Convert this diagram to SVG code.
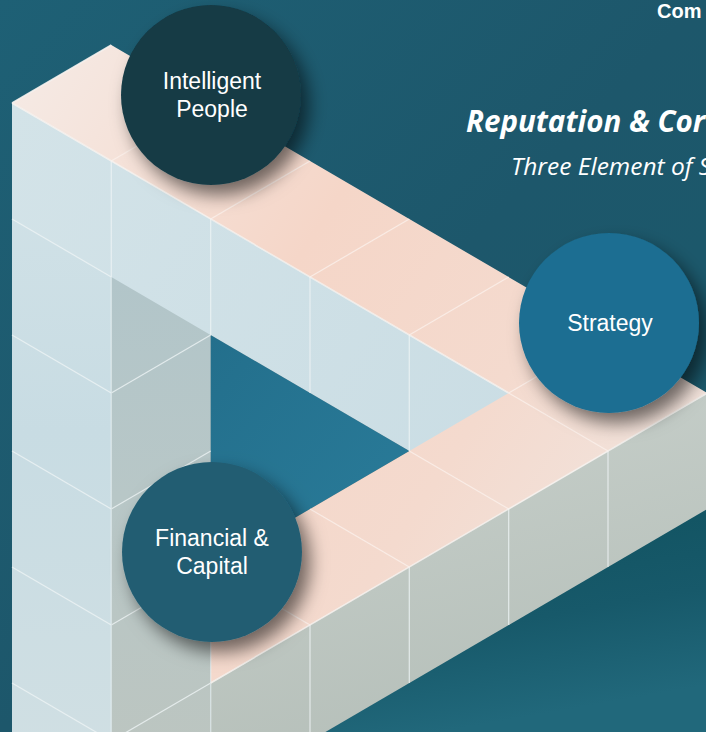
<svg xmlns="http://www.w3.org/2000/svg" width="706" height="732" viewBox="0 0 706 732">
  <defs>
    <linearGradient id="bg" x1="0" y1="0" x2="1" y2="1">
      <stop offset="0" stop-color="#1e6075"/>
      <stop offset="0.5" stop-color="#1d576b"/>
      <stop offset="1" stop-color="#1a5a6b"/>
    </linearGradient>
    <linearGradient id="inner" x1="0" y1="0" x2="1" y2="1">
      <stop offset="0" stop-color="#236f8c"/>
      <stop offset="1" stop-color="#2a7c9a"/>
    </linearGradient>
    <linearGradient id="lowbg" x1="0" y1="0" x2="0.3" y2="1">
      <stop offset="0" stop-color="#0f515e"/>
      <stop offset="0.6" stop-color="#17596a"/>
      <stop offset="1" stop-color="#21687b"/>
    </linearGradient>
    <linearGradient id="peach" x1="0" y1="0" x2="1" y2="0.6">
      <stop offset="0" stop-color="#f5ebe6"/>
      <stop offset="0.45" stop-color="#f5d6c8"/>
      <stop offset="0.75" stop-color="#f4dace"/>
      <stop offset="1" stop-color="#f1e3dc"/>
    </linearGradient>
    <linearGradient id="leftFace" x1="0" y1="0" x2="0" y2="1">
      <stop offset="0" stop-color="#d3e3e8"/>
      <stop offset="0.5" stop-color="#c8dce3"/>
      <stop offset="1" stop-color="#d0dfe3"/>
    </linearGradient>
    <linearGradient id="rightFace" x1="0" y1="0" x2="0" y2="1">
      <stop offset="0" stop-color="#adc4cb"/>
      <stop offset="0.6" stop-color="#b8c7c7"/>
      <stop offset="1" stop-color="#bcc5c0"/>
    </linearGradient>
    <linearGradient id="beamFront" x1="0" y1="0" x2="1" y2="0.5">
      <stop offset="0" stop-color="#d3e3e8"/>
      <stop offset="1" stop-color="#cadde4"/>
    </linearGradient>
    <linearGradient id="lowFront" x1="0" y1="0" x2="0.3" y2="1">
      <stop offset="0" stop-color="#c9d1cc"/>
      <stop offset="1" stop-color="#b4beb8"/>
    </linearGradient>
    <filter id="shadow" x="-30%" y="-30%" width="170%" height="170%">
      <feDropShadow dx="8" dy="10" stdDeviation="9" flood-color="#000000" flood-opacity="0.55"/>
    </filter>
  </defs>
  <style>
    .seam { stroke: #eef4f5; stroke-width: 1.2; fill: none; opacity: 0.8; }
    .tseam { stroke: #fbf1ec; stroke-width: 1.2; fill: none; opacity: 0.8; }
    .edge { stroke: #f7f3f0; stroke-width: 1.5; fill: none; opacity: 0.9; }
    .lbl { font-family: "Liberation Sans", Arial, sans-serif; font-size: 23px; fill: #ffffff; text-anchor: middle; }
  </style>

  <!-- background -->
  <rect x="0" y="0" width="706" height="732" fill="url(#bg)"/>
  <polygon points="325,732 707,509 706,732" fill="url(#lowbg)"/>

  <g id="scene">
    <!-- inner opening of the triangle -->
    <polygon points="210.7,335 409.3,451 210.7,567" fill="url(#inner)"/>
    <!-- column faces -->
    <polygon points="12,103 111.3,161 111.3,760 12,760" fill="url(#leftFace)"/>
    <polygon points="111.3,161 210.7,103 210.7,760 111.3,760" fill="url(#rightFace)"/>
    <!-- top beam front face -->
    <polygon points="12,103 608,451 608,567 12,219" fill="url(#beamFront)"/>
    <!-- bottom beam front face -->
    <polygon points="210.7,683 707.3,393 707.3,509 210.7,799" fill="url(#lowFront)"/>
    <!-- top faces (continuous peach band) -->
    <polygon points="12,103 111.3,45 707.3,393 608,451 210.7,683 210.7,567 508.7,393" fill="url(#peach)"/>

    <!-- column and front-face seams -->
    <g class="seam">
      <line x1="12" y1="219" x2="111.3" y2="277"/>
      <line x1="12" y1="335" x2="111.3" y2="393"/>
      <line x1="12" y1="451" x2="111.3" y2="509"/>
      <line x1="12" y1="567" x2="111.3" y2="625"/>
      <line x1="12" y1="683" x2="111.3" y2="741"/>
      <line x1="111.3" y1="393" x2="210.7" y2="335"/>
      <line x1="111.3" y1="509" x2="210.7" y2="451"/>
      <line x1="111.3" y1="625" x2="210.7" y2="567"/>
      <line x1="111.3" y1="741" x2="210.7" y2="683"/>
      <line x1="111.3" y1="161" x2="111.3" y2="732"/>
      <line x1="210.7" y1="567" x2="210.7" y2="732"/>
      <line x1="210.7" y1="219" x2="210.7" y2="335"/>
      <line x1="310" y1="277" x2="310" y2="393"/>
      <line x1="409.3" y1="335" x2="409.3" y2="451"/>
      <line x1="310" y1="625" x2="310" y2="732"/>
      <line x1="409.3" y1="567" x2="409.3" y2="683"/>
      <line x1="508.7" y1="509" x2="508.7" y2="625"/>
      <line x1="608" y1="451" x2="608" y2="567"/>
    </g>
    <!-- top face seams -->
    <g class="tseam">
      <line x1="111.3" y1="161" x2="210.7" y2="103"/>
      <line x1="210.7" y1="219" x2="310" y2="161"/>
      <line x1="310" y1="277" x2="409.3" y2="219"/>
      <line x1="409.3" y1="335" x2="508.7" y2="277"/>
      <line x1="508.7" y1="393" x2="608" y2="335"/>
      <line x1="210.7" y1="567" x2="310" y2="625"/>
      <line x1="310" y1="509" x2="409.3" y2="567"/>
      <line x1="409.3" y1="451" x2="508.7" y2="509"/>
      <line x1="508.7" y1="393" x2="608" y2="451"/>
    </g>
    <!-- highlighted front edges -->
    <g class="edge">
      <polyline points="12,103 508.7,393"/>
      <polyline points="210.7,683 707.3,393"/>
      <polyline points="12,103 111.3,45"/>
    </g>
  </g>

  <g id="connectors"></g>

  <g id="node-intelligent-people">
    <circle cx="211" cy="95" r="90" fill="#143a45" filter="url(#shadow)"/>
    <text class="lbl" x="212" y="89">Intelligent</text>
    <text class="lbl" x="212" y="117">People</text>
  </g>

  <g id="node-strategy">
    <circle cx="609" cy="323" r="90" fill="#1b6e92" filter="url(#shadow)"/>
    <text class="lbl" x="610" y="331">Strategy</text>
  </g>

  <g id="node-financial-capital">
    <circle cx="212" cy="552" r="90" fill="#225d72" filter="url(#shadow)"/>
    <text class="lbl" x="212" y="546">Financial &amp;</text>
    <text class="lbl" x="212" y="574">Capital</text>
  </g>

  <g id="titles">
    <text x="657" y="18" font-family="'Liberation Sans', Arial, sans-serif" font-weight="bold" font-size="20" fill="#ffffff">Com</text>
    <text x="466" y="132" font-family="'Open Sans', 'Noto Sans', sans-serif" font-weight="bold" font-style="italic" font-size="29.5" fill="#ffffff">Reputation &amp; Cor</text>
    <text x="511" y="175" font-family="'Open Sans', 'Noto Sans', sans-serif" font-style="italic" font-size="24.5" fill="#ffffff">Three Element of S</text>
  </g>
</svg>
